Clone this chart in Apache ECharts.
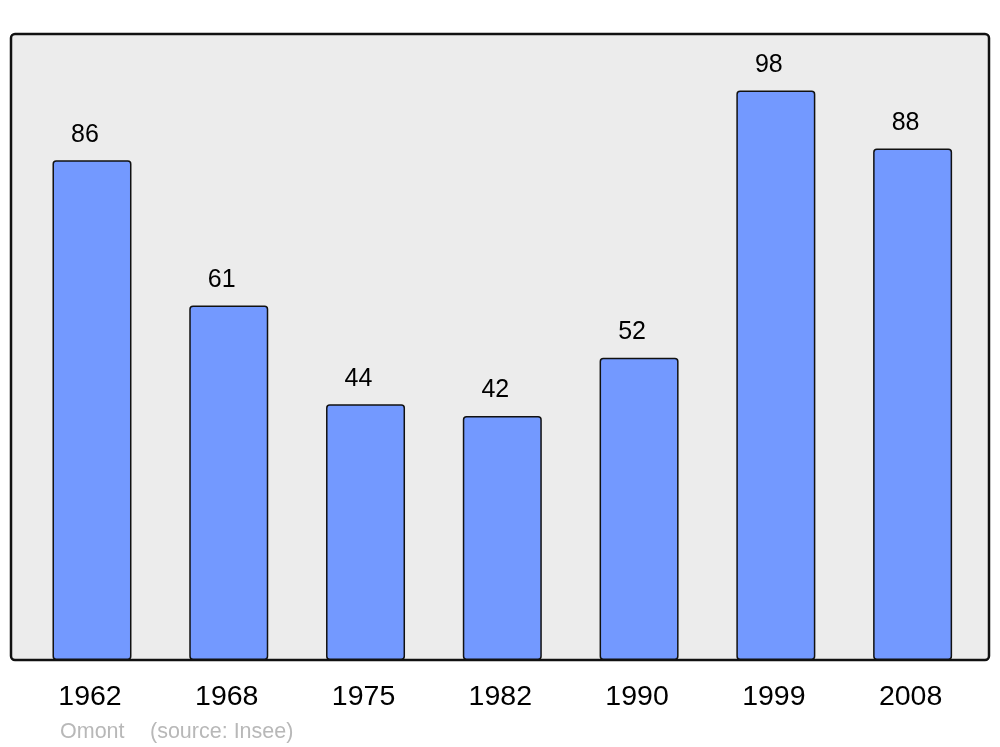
<!DOCTYPE html>
<html>
<head>
<meta charset="utf-8">
<script src="https://cdn.jsdelivr.net/npm/echarts@6/dist/echarts.min.js"></script>
<style>
html,body{margin:0;padding:0;background:#fff;}
#c{width:1000px;height:747px;}
</style>
</head>
<body>
<div id="c"></div>
<script>
const categories = ['1962', '1968', '1975', '1982', '1990', '1999', '2008'];
const population = [86, 61, 44, 42, 52, 98, 88];
const townName = 'Omont';
const sourceText = '(source: Insee)';

const FONT = '"Liberation Sans", Arial, sans-serif';
const chart = echarts.init(document.getElementById('c'), null, {renderer: 'canvas'});
chart.setOption({
  backgroundColor: '#ffffff',
  animation: false,
  title: [
    {text: townName, left: 60, top: 721, padding: 0, textStyle: {fontFamily: FONT, fontSize: 21.5, fontWeight: 'normal', color: '#b8b8b8'}},
    {text: sourceText, left: 150, top: 721, padding: 0, textStyle: {fontFamily: FONT, fontSize: 21.5, fontWeight: 'normal', color: '#b8b8b8'}}
  ],
  graphic: [{
    type: 'rect',
    z: -10,
    silent: true,
    shape: {x: 11, y: 34, width: 978, height: 626, r: 4},
    style: {fill: '#ececec', stroke: '#111111', lineWidth: 2.5}
  }],
  grid: {left: 23.6, right: 19, top: 34, bottom: 87, containLabel: false},
  xAxis: {
    type: 'category',
    data: categories,
    boundaryGap: true,
    axisLine: {show: false},
    axisTick: {show: false},
    axisLabel: {fontFamily: FONT, fontSize: 28.5, color: '#000', margin: 23, padding: [0, 4, 0, 0]}
  },
  yAxis: {
    type: 'value',
    min: 0,
    max: 107.7,
    show: false,
    splitLine: {show: false}
  },
  series: [{
    type: 'bar',
    data: population,
    barWidth: 79,
    itemStyle: {color: '#7399ff', borderColor: '#111111', borderWidth: 1.5, borderRadius: 3},
    label: {
      show: true,
      position: 'top',
      distance: 15,
      offset: [-7, 2],
      fontFamily: FONT,
      fontSize: 25,
      color: '#000'
    }
  }]
});
</script>
</body>
</html>
